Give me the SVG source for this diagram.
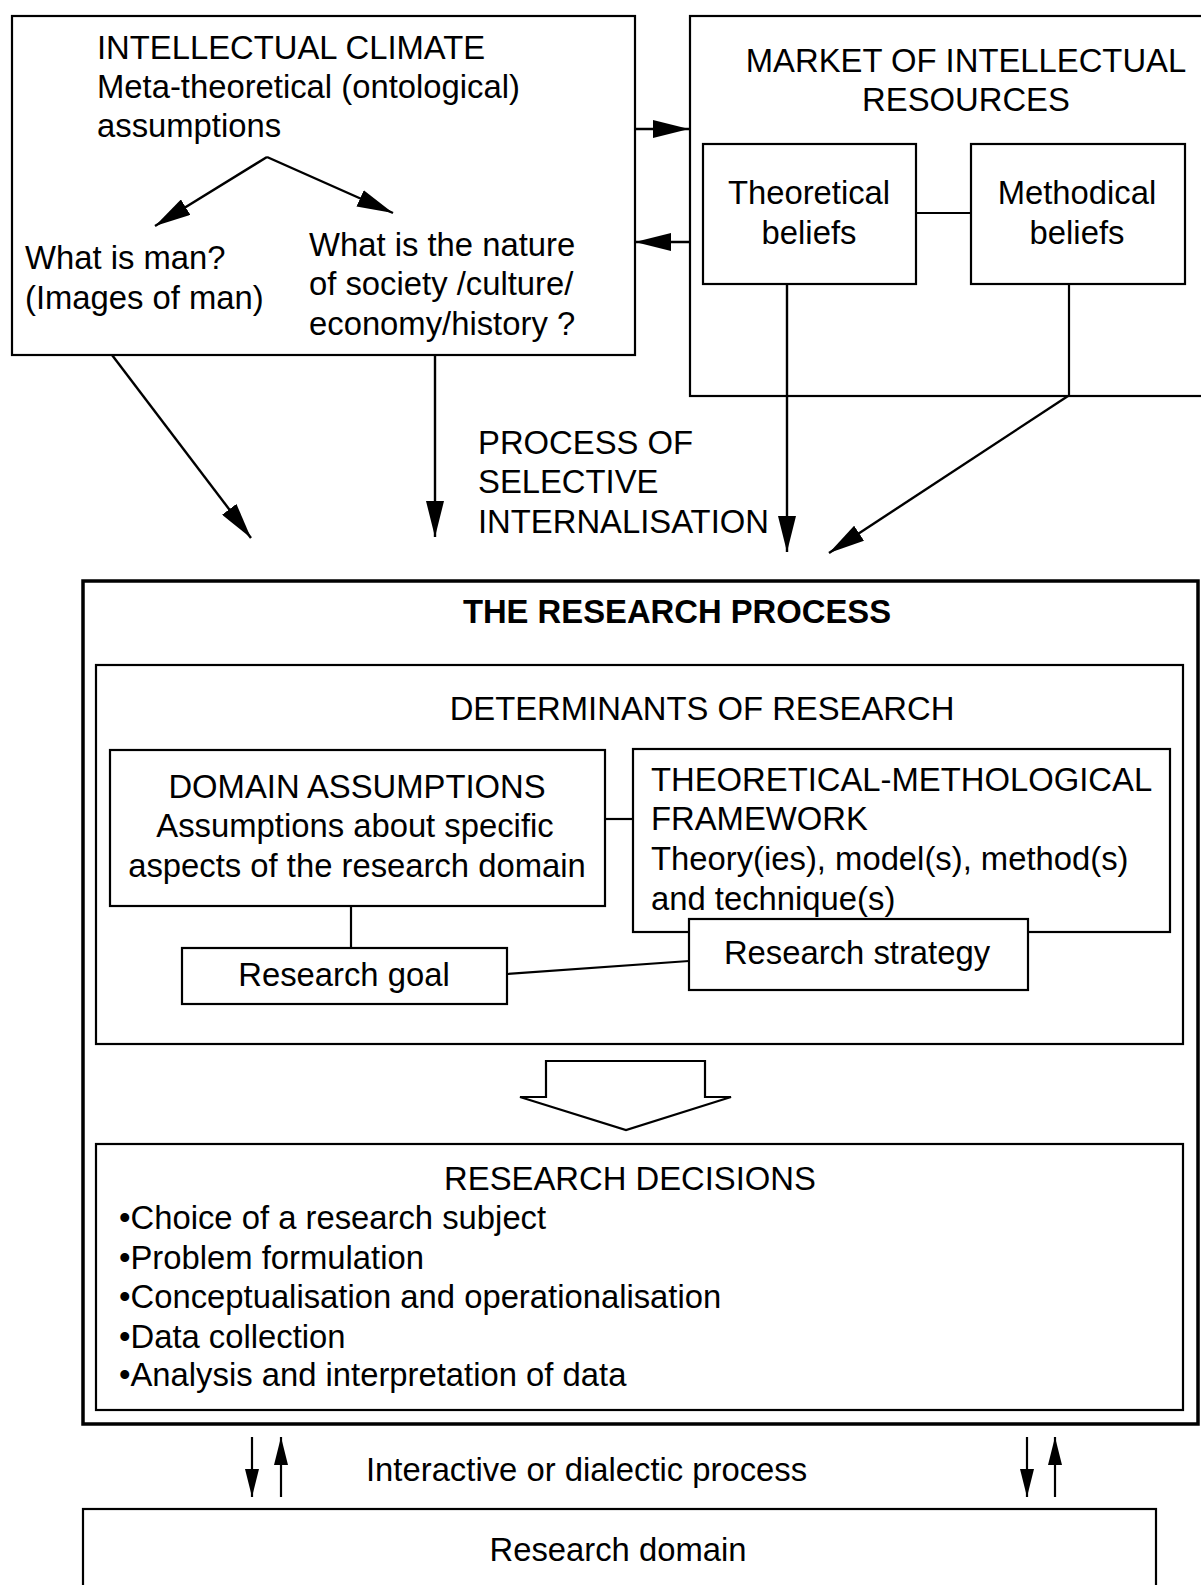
<svg xmlns="http://www.w3.org/2000/svg" width="1201" height="1585" viewBox="0 0 1201 1585">
  <style>
    .box { fill: none; stroke: #000; stroke-width: 2.2; }
    .thick { fill: none; stroke: #000; stroke-width: 3.5; }
    .ln { fill: none; stroke: #000; stroke-width: 2.2; }
    .arrow { fill: none; stroke: #000; stroke-width: 2.4; marker-end: url(#head); }
    .arrow-s { fill: none; stroke: #000; stroke-width: 2.2; marker-end: url(#headS); }
    text { font-family: "Liberation Sans", Arial, sans-serif; font-size: 32.8px; fill: #000; }
    .c { text-anchor: middle; }
    .b { font-weight: bold; }
  </style>
  <defs>
    <marker id="head" markerUnits="userSpaceOnUse" markerWidth="36" markerHeight="18" refX="36" refY="9" orient="auto">
      <path d="M0,0 L36,9 L0,18 Z" fill="#000"/>
    </marker>
    <marker id="headS" markerUnits="userSpaceOnUse" markerWidth="28" markerHeight="14" refX="28" refY="7" orient="auto">
      <path d="M0,0 L28,7 L0,14 Z" fill="#000"/>
    </marker>
  </defs>
  <rect width="1201" height="1585" fill="#fff"/>

  <!-- Intellectual climate -->
  <g id="intellectual-climate">
    <rect class="box" x="12" y="16" width="623" height="339"/>
    <text x="97" y="59">INTELLECTUAL CLIMATE</text>
    <text x="97" y="98">Meta-theoretical (ontological)</text>
    <text x="97" y="137">assumptions</text>
    <text x="25" y="269">What is man?</text>
    <text x="25" y="309">(Images of man)</text>
    <text x="309" y="256">What is the nature</text>
    <text x="309" y="295">of society /culture/</text>
    <text x="309" y="335">economy/history ?</text>
  </g>

  <!-- Market of intellectual resources -->
  <g id="market">
    <rect class="box" x="690" y="16" width="540" height="380"/>
    <text class="c" x="966" y="72">MARKET OF INTELLECTUAL</text>
    <text class="c" x="966" y="111">RESOURCES</text>
  </g>
  <g id="theoretical-beliefs">
    <rect class="box" x="703" y="144" width="213" height="140"/>
    <text class="c" x="809" y="204">Theoretical</text>
    <text class="c" x="809" y="244">beliefs</text>
  </g>
  <g id="methodical-beliefs">
    <rect class="box" x="971" y="144" width="214" height="140"/>
    <text class="c" x="1077" y="204">Methodical</text>
    <text class="c" x="1077" y="244">beliefs</text>
  </g>

  <!-- Selective internalisation label -->
  <g id="internalisation-label">
    <text x="478" y="454">PROCESS OF</text>
    <text x="478" y="493">SELECTIVE</text>
    <text x="478" y="533">INTERNALISATION</text>
  </g>

  <!-- Research process -->
  <g id="research-process">
    <rect class="thick" x="83" y="581" width="1115" height="843"/>
    <text class="c b" x="677" y="623">THE RESEARCH PROCESS</text>
  </g>
  <g id="determinants">
    <rect class="box" x="96" y="665" width="1087" height="379"/>
    <text class="c" x="702" y="720">DETERMINANTS OF RESEARCH</text>
  </g>
  <g id="domain-assumptions">
    <rect class="box" x="110" y="750" width="495" height="156"/>
    <text class="c" x="357" y="798">DOMAIN ASSUMPTIONS</text>
    <text class="c" x="355" y="837">Assumptions about specific</text>
    <text class="c" x="357" y="877">aspects of the research domain</text>
  </g>
  <g id="framework">
    <rect class="box" x="633" y="749" width="537" height="183"/>
    <text x="651" y="791">THEORETICAL-METHOLOGICAL</text>
    <text x="651" y="830">FRAMEWORK</text>
    <text x="651" y="870">Theory(ies), model(s), method(s)</text>
    <text x="651" y="910">and technique(s)</text>
  </g>
  <g id="research-goal">
    <rect class="box" x="182" y="948" width="325" height="56"/>
    <text class="c" x="344" y="986">Research goal</text>
  </g>
  <g id="research-strategy">
    <rect class="box" x="689" y="919" width="339" height="71" style="fill:#fff"/>
    <text class="c" x="857" y="964">Research strategy</text>
  </g>
  <g id="block-arrow">
    <polygon points="546,1061 705,1061 705,1097 731,1097 626,1130 520,1097 546,1097" fill="#fff" stroke="#000" stroke-width="2.2"/>
  </g>
  <g id="research-decisions">
    <rect class="box" x="96" y="1144" width="1087" height="266"/>
    <text class="c" x="630" y="1190">RESEARCH DECISIONS</text>
    <text x="119" y="1229">•Choice of a research subject</text>
    <text x="119" y="1269">•Problem formulation</text>
    <text x="119" y="1308">•Conceptualisation and operationalisation</text>
    <text x="119" y="1348">•Data collection</text>
    <text x="119" y="1386">•Analysis and interpretation of data</text>
  </g>

  <!-- Interaction label -->
  <g id="interaction-label">
    <text x="366" y="1481">Interactive or dialectic process</text>
  </g>

  <!-- Research domain -->
  <g id="research-domain">
    <rect class="box" x="83" y="1509" width="1073" height="100"/>
    <text class="c" x="618" y="1561">Research domain</text>
  </g>

  <!-- Connectors -->
  <g id="connectors">
    <line class="arrow" x1="267" y1="157" x2="155" y2="226"/>
    <line class="arrow" x1="267" y1="157" x2="393" y2="213"/>
    <line class="arrow" x1="635" y1="129" x2="689" y2="129"/>
    <line class="arrow" x1="690" y1="242" x2="635" y2="242"/>
    <line class="ln" x1="916" y1="213" x2="971" y2="213"/>
    <line class="arrow" x1="112" y1="355" x2="251" y2="538"/>
    <line class="arrow" x1="435" y1="355" x2="435" y2="537"/>
    <line class="arrow" x1="787" y1="284" x2="787" y2="552"/>
    <polyline class="ln" points="1069,284 1069,396"/>
    <line class="arrow" x1="1068" y1="396" x2="829" y2="553"/>
    <line class="ln" x1="605" y1="819" x2="633" y2="819"/>
    <line class="ln" x1="351" y1="906" x2="351" y2="948"/>
    <line class="ln" x1="507" y1="974" x2="689" y2="961"/>
    <line class="arrow-s" x1="252" y1="1437" x2="252" y2="1497"/>
    <line class="arrow-s" x1="281" y1="1497" x2="281" y2="1437"/>
    <line class="arrow-s" x1="1027" y1="1437" x2="1027" y2="1497"/>
    <line class="arrow-s" x1="1055" y1="1497" x2="1055" y2="1437"/>
  </g>
</svg>
